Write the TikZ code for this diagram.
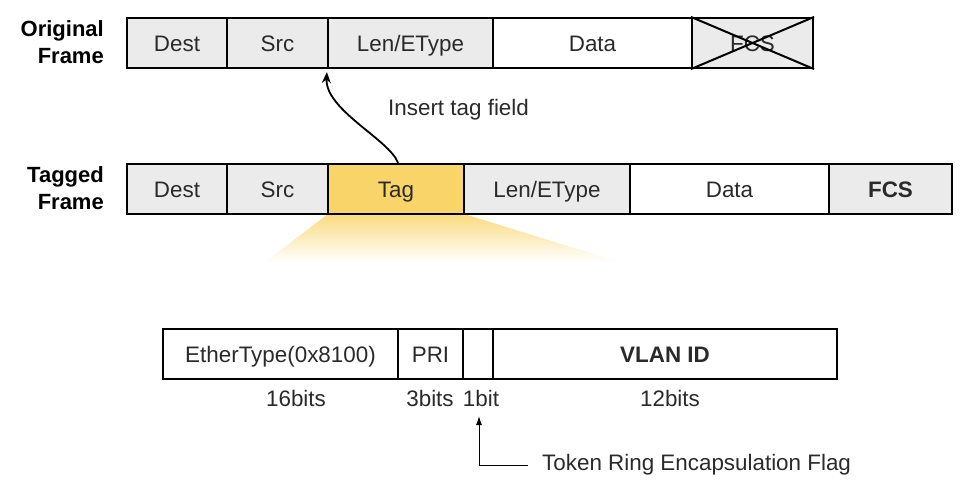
\documentclass[tikz,border=0pt]{standalone}
\usepackage{fontspec}
\setmainfont{Liberation Sans}
\usetikzlibrary{arrows.meta}
\definecolor{fgray}{HTML}{EBEBEB}
\definecolor{tagyel}{HTML}{F9D468}
\definecolor{txt}{HTML}{2A2A2A}
\tikzset{
  fld/.style={draw=black, line width=2.2pt, minimum height=50pt, inner sep=0pt, text=txt,
    text height=16pt, text depth=0pt,
    font=\fontsize{22.4}{26}\selectfont},
  grayfld/.style={fld, fill=fgray},
  whitefld/.style={fld, fill=white},
  lbl/.style={font=\fontsize{22}{26.5}\selectfont\bfseries, align=right, anchor=east, inner sep=0pt},
  note/.style={font=\fontsize{22.4}{26}\selectfont, text=txt, inner sep=0pt},
}
\begin{document}
\begin{tikzpicture}[x=1pt,y=-1pt]
\useasboundingbox (0,0) rectangle (972,496);
% yellow fade below tag
\shade[top color=tagyel!85, bottom color=white, draw=none]
  (328,214) -- (464,214) -- (620,262) -- (265,262) -- cycle;
% Original frame
\node[grayfld, minimum width=100pt] (odest) at (177,43) {Dest};
\node[grayfld, minimum width=101pt] (osrc) at (277.5,43) {Src};
\node[grayfld, minimum width=165pt] (olen) at (410.5,43) {Len/EType};
\node[whitefld, minimum width=199pt] (odata) at (592.5,43) {Data};
\node[grayfld, minimum width=121pt] (ofcs) at (752.5,43) {FCS};
\draw[line width=2pt] (ofcs.south west) -- (ofcs.north east)
                      (ofcs.north west) -- (ofcs.south east);
\node[lbl] (olbl) at (104,42) {Original\\Frame};
% Tagged frame
\node[grayfld, minimum width=100pt] (tdest) at (177,189) {Dest};
\node[grayfld, minimum width=101pt] (tsrc) at (277.5,189) {Src};
\node[fld, fill=tagyel, minimum width=136pt] (ttag) at (396,189) {Tag};
\node[grayfld, minimum width=166pt] (tlen) at (547,189) {Len/EType};
\node[whitefld, minimum width=199pt] (tdata) at (729.5,189) {Data};
\node[grayfld, minimum width=123pt, font=\fontsize{22.4}{26}\selectfont\bfseries] (tfcs) at (890.5,189) {FCS};
\node[lbl] (tlbl) at (104,188) {Tagged\\Frame};
% insert arrow
\node[note, anchor=west] (ins) at (388,110) {Insert tag field};
\draw[line width=1.8pt, -{Stealth[length=11pt,width=9pt]}]
  ([xshift=2pt]ttag.north) .. controls (390,140) and (325,110) .. ([yshift=-3pt]olen.south west);
% Tag detail
\node[whitefld, minimum width=235pt] (et) at (280.5,354) {EtherType(0x8100)};
\node[whitefld, minimum width=65pt] (pri) at (430.5,354) {PRI};
\node[whitefld, minimum width=30pt] (cfi) at (478,354) {};
\node[whitefld, minimum width=344pt, font=\fontsize{22.4}{26}\selectfont\bfseries] (vid) at (665,354) {VLAN ID};
\node[note] (b16) at (296,398) {16bits};
\node[note] (b3) at (430,398) {3bits};
\node[note] (b1) at (481,398) {1bit};
\node[note] (b12) at (670,398) {12bits};
\node[note, anchor=west] (tok) at (542,465) {Token Ring Encapsulation Flag};
\coordinate (flagtip) at (479,416);
\draw[line width=1pt, -{Latex[length=9pt,width=6pt]}] ([xshift=-14pt]tok.west) -| (flagtip);
\end{tikzpicture}
\end{document}
